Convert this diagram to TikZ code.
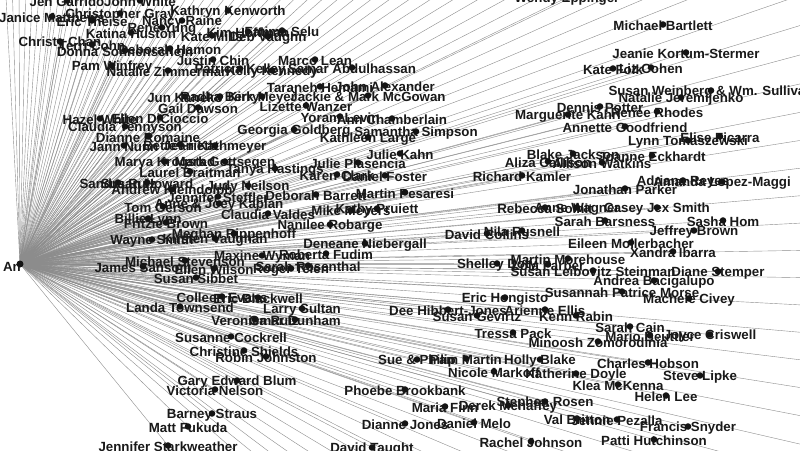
\documentclass[tikz,border=0pt]{standalone}
\usepackage{fontspec}
\setmainfont{Liberation Sans}
\usetikzlibrary{calc}
\def\people{1/67/2/Jen Garrido,2/140/2/John White,3/567/-1/Wendy Eppinger,4/120/15/Christopher Gray,5/228/12/Kathryn Kenworth,6/52/18/Janice Matthews,7/92/22/Eric Theise,8/182/22/Nancy Raine,9/131/34/Katina Huston,10/162/29/Rene Yung,11/212/37/Kate Mills,12/248/33/Kim Hoffman,13/282/32/Fatima Selu,14/268/38/Deb Vaughn,15/60/43/Christy Chan,16/92/46/Terri Cohn,17/125/52/Donna Sonnenschein,18/170/50/Deborah Hamon,19/213/61/Justin Chin,20/112/67/Pam Winfrey,21/168/72/Natalie Zimmerman,22/240/70/Patricia Kelley,23/272/72/Kelly Kennedy,24/352/69/Samar Abdulhassan,25/315/61/Marco Lean,26/320/88/Taraneh Hemami,27/385/87/John Alexander,28/368/97/Jackie \& Mark McGowan,29/185/98/Jun Kaneko,30/220/98/Radha Berry,31/262/98/Kirk Meyer,32/198/109/Gail Dawson,33/306/107/Lizette Wanzer,34/100/120/Hazel White,35/160/119/Ellen DiCioccio,36/125/128/Claudia Tennyson,37/148/138/Dianne Romaine,38/124/147/Jann Nunn,39/180/146/Bette Frieth,40/215/147/Jean Kathmeyer,41/294/131/Georgia Goldberg,42/340/118/Yoram Levin,43/392/120/Ann Chamberlain,44/416/133/Samantha Simpson,45/368/139/Kathleen Large,46/663/26/Michael Bartlett,47/686/54/Jeanie Kortum-Stermer,48/613/70/Kate Folk,49/651/69/Liz Cohen,50/711/92/Susan Weinberg \& Wm. Sullivan,51/681/99/Natalie Jeremijenko,52/600/108/Dennis Potter,53/568/116/Marguerite Kahrl,54/657/113/Renee Rhodes,55/625/128/Annette Goodfriend,56/688/142/Lynn Tomaszewski,57/720/138/Elise Ficarra,58/573/155/Blake Jackson,59/548/163/Aliza Callison,60/602/164/Allison Watkins,61/652/157/Joanne Eckhardt,62/522/177/Richard Kamler,63/625/190/Jonathan Parker,64/683/182/Adriana Reyes,65/722/183/Amanda Lopez-Maggi,66/545/209/Rebecca Solnit,67/577/209/Anne Wagner,68/657/209/Casey Jex Smith,69/605/222/Sarah Barsness,70/723/222/Sasha Hom,71/694/232/Jeffrey Brown,72/487/235/David Collins,73/522/232/Nila Rusnell,74/631/244/Eileen Mollerbacher,75/673/253/Xandra Ibarra,76/568/260/Martin Morehouse,77/497/265/Shelley Doty,78/548/266/Lola Farber,79/593/272/Susan Leibovitz Steinman,80/718/273/Diane Stemper,81/654/282/Andrea Bacigalupo,82/622/293/Susannah Patrice Morse,83/689/300/Machele Civey,84/505/299/Eric Hongisto,85/448/311/Dee Hibbert-Jones,86/545/311/Arienne Ellis,87/477/317/Susan Gevirtz,88/576/317/Kenn Rabin,89/630/328/Sarah Cain,90/650/337/Mario Beuttler,91/710/336/Joyce Criswell,92/513/334/Tressa Pack,93/598/343/Minoosh Zomorodinia,94/417/361/Sue \& Philip,95/466/360/Pam Martin,96/540/361/Holly Blake,97/494/373/Nicole Markoff,98/576/375/Katherine Doyle,99/648/364/Charles Hobson,100/700/377/Steve Lipke,101/618/386/Klea McKenna,102/666/397/Helen Lee,103/545/403/Stephen Rosen,104/508/407/Derek Mehaffey,105/445/408/Maria Finn,106/577/420/Val Britton,107/617/421/Jennie Pezalla,108/688/428/Francis Snyder,109/654/441/Patti Hutchinson,110/531/443/Rachel Johnson,111/405/425/Dianne Jones,112/474/424/Daniel Melo,113/405/391/Phoebe Brookbank,114/372/449/David Taught,115/237/382/Gary Edward Blum,116/215/391/Victoria Nelson,117/212/415/Barney Straus,118/188/428/Matt Fukuda,119/168/447/Jennifer Starkweather,120/266/358/Robin Johnston,121/244/352/Christine Shields,122/231/338/Susanne Cockrell,123/255/321/Veronica Ruiz,124/295/321/Omar Dunham,125/302/310/Larry Sultan,126/222/298/Colleen Evans,127/258/299/Eric Blackwell,128/180/308/Landa Townsend,129/196/279/Susan Sibbet,130/143/268/James Sansom,131/185/262/Michael Stevenson,132/214/270/Ellen Wilson,133/262/257/Maxine Wyman,134/326/255/Roberta Fudim,135/308/267/Sarah Rosenthal,136/291/270/Roger Teien,137/365/245/Deneane Niebergall,138/330/226/Nanilee Robarge,139/351/212/Mike Meyers,140/377/210/Kathy Pruiett,141/268/215/Claudia Valdes,142/405/194/Martin Pesaresi,143/316/196/Deborah Barrett,144/358/164/Julie Plasencia,145/400/155/Julie Kahn,146/337/176/Karen Clark,147/385/177/Daniel Foster,148/275/170/Tanya Hastings,149/248/187/Judy Neilson,150/218/198/Jennifer Steffler,151/219/205/Anne \& Joey Kaplan,152/172/191/Andrew Kleindolph,153/118/184/Sandra Ruiz,154/147/184/Susan Howard,155/190/173/Laurel Braitman,156/165/163/Marya Krogstad,157/225/163/Mark Gottsegen,158/163/208/Tom Gerson,159/148/220/Billie Lynn,160/166/224/Fritzie Brown,161/152/241/Wayne Smith,162/234/235/Meghan Rippenhoff,163/215/240/Kirsten Vaughan}
\begin{document}
\begin{tikzpicture}[x=1pt,y=-1pt,
  lbl/.style={font=\bfseries\fontsize{13.3}{14}\selectfont, text=black!90, inner sep=0pt},
  link/.style={draw=black!45, line width=0.4pt},
  dotm/.style={fill=black!92}]
\fill[white] (0,0) rectangle (800,450);
\useasboundingbox (0,0) rectangle (800,450);
\clip (0,0) rectangle (800,450);
\coordinate (hub) at (20,264);
% connectors to people outside the frame
\foreach \a [count=\i] in {-93,-91.6,...,-21} {
  \coordinate (u\i) at ($(hub)+(\a:1200)$);
  \draw[link] (hub) -- (u\i);
}
\foreach \a [count=\i] in {-19,-17,...,42} {
  \coordinate (v\i) at ($(hub)+(\a:1200)$);
  \draw[link] (hub) -- (v\i);
}
% connectors to people in the frame
\foreach \n/\x/\y/\lab in \people {
  \coordinate (d\n) at (\x,\y-1.5);
  \draw[link] (hub) -- (d\n);
}
% labels and dots
\foreach \n/\x/\y/\lab in \people {
  \node[lbl] (p\n) at (\x,\y) {\lab};
  \fill[dotm] (d\n) circle (3.3);
}
\node[lbl, anchor=east] (hublab) at (21,267) {An};
\fill[dotm] (hub) circle (3.5);
\end{tikzpicture}
\end{document}
